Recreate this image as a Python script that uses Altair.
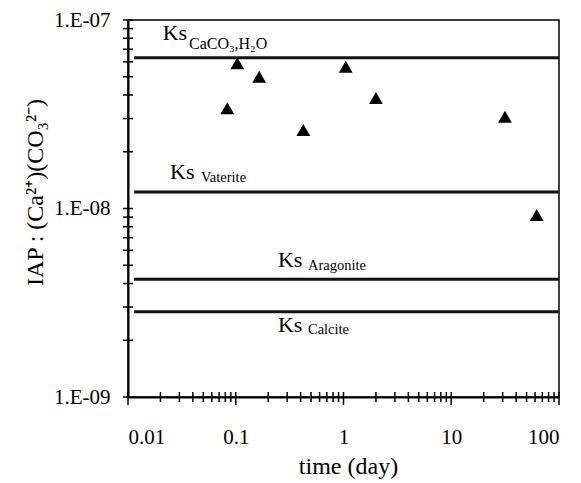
import altair as alt
import pandas as pd

# measured points
time_day = [0.0835, 0.1034, 0.165, 0.424, 1.05, 2.0, 31.5, 62.1]
iap = [3.40e-8, 5.89e-8, 5.00e-8, 2.61e-8, 5.65e-8, 3.86e-8, 3.07e-8, 9.24e-9]

# solubility products (horizontal lines)
ks_names = ["CaCO₃,H₂O", "Vaterite", "Aragonite", "Calcite"]
ks_values = [6.31e-8, 1.224e-8, 4.21e-9, 2.835e-9]
ks_start = [0.0114, 0.0114, 0.0114, 0.0114]
ks_end = [100, 100, 100, 100]

# label anchors (data units)
label_x = [0.021, 0.02454, 0.2466, 0.2466]
label_y = [7.83e-8, 1.434e-8, 4.894e-9, 2.212e-9]
sub_x = [0.0368, 0.04759, 0.468, 0.468]
sub_y = [7.02e-8, 1.388e-8, 4.72e-9, 2.158e-9]

x_major = [0.01, 0.1, 1, 10, 100]
x_minor = [m * d for d in [0.01, 0.1, 1, 10] for m in range(2, 10)]
y_major = [1e-9, 1e-8, 1e-7]
y_minor = [m * d for d in [1e-9, 1e-8] for m in range(2, 10)]

FONT = "Liberation Serif"
W, H = 431, 377

xscale = alt.Scale(type="log", domain=[0.01, 100], nice=False)
yscale = alt.Scale(type="log", domain=[1e-9, 1e-7], nice=False)

x_axis = alt.Axis(values=x_major, format="~g", title="time (day)",
                  titleX=220, titleY=76, titleBaseline="alphabetic",
                  labelPadding=29, labelBaseline="top")
y_axis = alt.Axis(values=y_major,
                  labelExpr="'1.E-0' + round(-log(datum.value)/LN10)",
                  title="IAP : (Ca²⁺)(CO₃²⁻)",
                  titleX=-86, titleY=172, titleAngle=-90,
                  titleAlign="center", titleBaseline="alphabetic",
                  labelPadding=18)

pts = pd.DataFrame({"t": time_day, "iap": iap})
ks = pd.DataFrame({"name": ks_names, "v": ks_values, "x0": ks_start, "x1": ks_end,
                   "lx": label_x, "ly": label_y, "sx": sub_x, "sy": sub_y,
                   "i": list(range(len(ks_names)))})

points = alt.Chart(pts).mark_point(shape="triangle-up", filled=True, size=190,
                                   color="black", opacity=1).encode(
    x=alt.X("t:Q", scale=xscale, axis=x_axis),
    y=alt.Y("iap:Q", scale=yscale, axis=y_axis),
)

lines = alt.Chart(ks).mark_rule(color="#111", strokeWidth=3).encode(
    x=alt.X("x0:Q", scale=xscale, axis=x_axis),
    x2="x1:Q",
    y=alt.Y("v:Q", scale=yscale, axis=y_axis),
)

ks_text = alt.Chart(ks).mark_text(font=FONT, fontSize=22, align="left",
                                  baseline="alphabetic", color="black").encode(
    x=alt.X("lx:Q", scale=xscale, axis=x_axis),
    y=alt.Y("ly:Q", scale=yscale, axis=y_axis),
    text=alt.value("Ks"),
)

sub_text = alt.Chart(ks).mark_text(font=FONT, align="left",
                                   baseline="alphabetic", color="black").encode(
    x=alt.X("sx:Q", scale=xscale, axis=x_axis),
    y=alt.Y("sy:Q", scale=yscale, axis=y_axis),
    text="name:N",
    size=alt.condition("datum.i == 0", alt.value(16), alt.value(14.5)),
)

# tick marks crossing the axis lines
ytk = pd.DataFrame({"v": y_minor + y_major})
ytick = alt.Chart(ytk).mark_rule(color="black", strokeWidth=1.5).encode(
    y=alt.Y("v:Q", scale=yscale, axis=y_axis),
    x=alt.value(-5), x2=alt.value(5),
)
xtk_min = pd.DataFrame({"v": x_minor})
xtick_min = alt.Chart(xtk_min).mark_rule(color="black", strokeWidth=1.5).encode(
    x=alt.X("v:Q", scale=xscale, axis=x_axis),
    y=alt.value(H - 5), y2=alt.value(H + 5),
)
xtk_maj = pd.DataFrame({"v": x_major})
xtick_maj = alt.Chart(xtk_maj).mark_rule(color="black", strokeWidth=1.5).encode(
    x=alt.X("v:Q", scale=xscale, axis=x_axis),
    y=alt.value(H - 5), y2=alt.value(H + 8),
)

chart = alt.layer(points, lines, ks_text, sub_text, ytick, xtick_min, xtick_maj).properties(
    width=W, height=H,
    autosize=alt.AutoSizeParams(type="none"),
    padding={"left": 128, "top": 20, "right": 22, "bottom": 86},
    background="white",
).configure_axis(
    grid=False, ticks=False, tickSize=0,
    domainColor="black", domainWidth=2,
    labelFont=FONT, labelFontSize=21, labelColor="black",
    titleFont=FONT, titleFontSize=24, titleColor="black", titleFontWeight="normal",
).configure_view(stroke="black", strokeWidth=1.5)

chart.save("out.html", embed_options={"renderer": "svg", "actions": False})
